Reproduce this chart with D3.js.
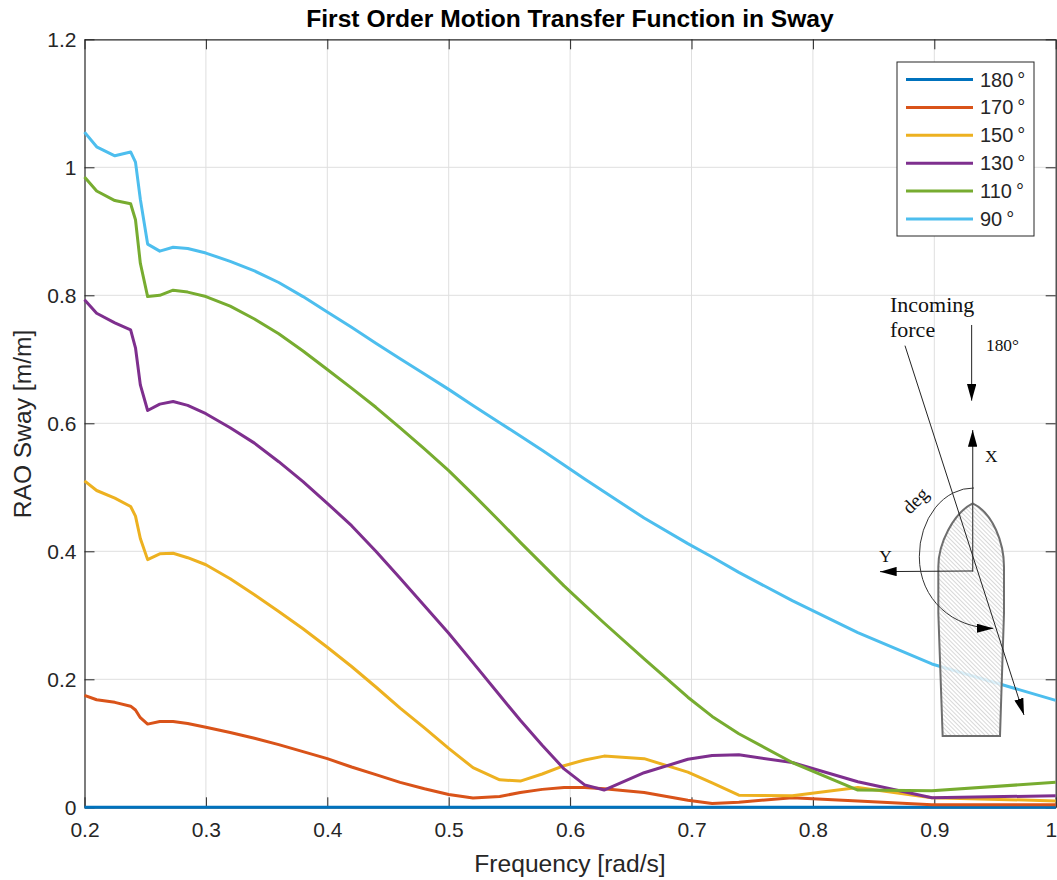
<!DOCTYPE html>
<html>
<head>
<meta charset="utf-8">
<script src="https://cdn.jsdelivr.net/npm/d3@7"></script>
<style>
  html, body { margin: 0; padding: 0; background: #fff; }
  svg { display: block; }
  text { font-family: "Liberation Sans", Arial, sans-serif; fill: #262626; }
  .inset text { font-family: "Liberation Serif", serif; fill: #111; }
</style>
</head>
<body>
<svg id="chart" width="1057" height="880"></svg>
<script>
const freq = [0.2,0.21,0.225,0.238,0.242,0.246,0.252,0.262,0.273,0.285,0.3,0.32,0.34,0.36,0.38,0.4,0.42,0.44,0.46,0.48,0.5,0.52,0.542,0.559,0.577,0.595,0.612,0.628,0.661,0.697,0.717,0.739,0.783,0.837,0.898,1];

const rao180 = [0,0,0,0,0,0,0,0,0,0,0,0,0,0,0,0,0,0,0,0,0,0,0,0,0,0,0,0,0,0,0,0,0,0,0,0];
const rao170 = [0.175,0.168,0.164,0.158,0.152,0.14,0.13,0.134,0.134,0.131,0.125,0.117,0.108,0.098,0.087,0.076,0.063,0.051,0.039,0.029,0.02,0.0145,0.017,0.023,0.028,0.031,0.031,0.029,0.023,0.011,0.006,0.008,0.015,0.01,0.004,0.004];
const rao150 = [0.51,0.495,0.483,0.47,0.455,0.42,0.387,0.396,0.397,0.39,0.379,0.357,0.332,0.306,0.279,0.25,0.22,0.188,0.155,0.124,0.092,0.062,0.043,0.041,0.052,0.065,0.074,0.08,0.076,0.055,0.038,0.019,0.018,0.031,0.015,0.01];
const rao130 = [0.793,0.772,0.757,0.746,0.718,0.66,0.62,0.63,0.634,0.628,0.615,0.593,0.569,0.54,0.509,0.475,0.44,0.4,0.358,0.315,0.272,0.226,0.175,0.136,0.097,0.06,0.035,0.027,0.054,0.075,0.081,0.082,0.07,0.04,0.015,0.018];
const rao110 = [0.985,0.963,0.948,0.943,0.918,0.85,0.798,0.8,0.808,0.805,0.798,0.783,0.763,0.74,0.713,0.684,0.655,0.625,0.593,0.56,0.526,0.489,0.447,0.414,0.38,0.346,0.316,0.288,0.232,0.172,0.142,0.115,0.07,0.027,0.026,0.039];
const rao90 = [1.055,1.032,1.018,1.024,1.008,0.95,0.88,0.869,0.875,0.873,0.866,0.853,0.838,0.82,0.798,0.774,0.75,0.725,0.701,0.677,0.653,0.628,0.601,0.58,0.558,0.535,0.513,0.493,0.452,0.412,0.391,0.367,0.323,0.273,0.224,0.167];

const seriesNames = ['180°','170°','150°','130°','110°','90°'];
const seriesValues = [rao180, rao170, rao150, rao130, rao110, rao90];
const seriesColors = ['#0072BD','#D95319','#EDB120','#7E2F8E','#77AC30','#4DBEEE'];

const xTicks = [0.2,0.3,0.4,0.5,0.6,0.7,0.8,0.9,1];
const yTicks = [0,0.2,0.4,0.6,0.8,1,1.2];

const svg = d3.select('#chart');
const plotLeft = 84.5, plotRight = 1055.7, plotTop = 39.3, plotBottom = 807.3;

const x = d3.scaleLinear().domain([0.2, 1]).range([plotLeft, plotRight]);
const y = d3.scaleLinear().domain([0, 1.2]).range([plotBottom, plotTop]);

// grid
const grid = svg.append('g').attr('stroke', '#dfdfdf').attr('stroke-width', 1);
xTicks.slice(1, -1).forEach(t => {
  grid.append('line').attr('x1', x(t)).attr('x2', x(t)).attr('y1', plotTop).attr('y2', plotBottom);
});
yTicks.slice(1, -1).forEach(t => {
  grid.append('line').attr('x1', plotLeft).attr('x2', plotRight).attr('y1', y(t)).attr('y2', y(t));
});

// axes, ticks point inwards like matlab
function styleAxis(g) {
  g.select('.domain').attr('stroke', '#262626').attr('stroke-width', 1.2);
  g.selectAll('.tick line').attr('stroke', '#262626').attr('stroke-width', 1);
  g.selectAll('text').style('font-size', '21px').style('fill', '#262626');
}
const tickFmt = d => String(d);
const noLabel = () => '';

const bottomAxis = svg.append('g').attr('transform', `translate(0,${plotBottom})`)
  .call(d3.axisBottom(x).tickValues(xTicks).tickFormat(tickFmt).tickSize(-10).tickSizeOuter(0).tickPadding(15))
  .call(styleAxis);
// the last label sits on the window edge, keep it inside
bottomAxis.selectAll('.tick').filter(d => d === 1).select('text').attr('text-anchor', 'end').attr('x', 1);

svg.append('g').attr('transform', `translate(0,${plotTop})`)
  .call(d3.axisTop(x).tickValues(xTicks).tickFormat(noLabel).tickSize(-10).tickSizeOuter(0))
  .call(styleAxis);
svg.append('g').attr('transform', `translate(${plotLeft},0)`)
  .call(d3.axisLeft(y).tickValues(yTicks).tickFormat(tickFmt).tickSize(-10).tickSizeOuter(0).tickPadding(8))
  .call(styleAxis);
svg.append('g').attr('transform', `translate(${plotRight},0)`)
  .call(d3.axisRight(y).tickValues(yTicks).tickFormat(noLabel).tickSize(-10).tickSizeOuter(0))
  .call(styleAxis);

// series
const line = d3.line().x((d, i) => x(freq[i])).y(d => y(d));
svg.append('g').selectAll('path')
  .data(seriesValues)
  .join('path')
  .attr('d', d => line(d))
  .attr('fill', 'none')
  .attr('stroke', (d, i) => seriesColors[i])
  .attr('stroke-width', 3)
  .attr('stroke-linejoin', 'round');

// labels
svg.append('text').attr('x', 570).attr('y', 27).attr('text-anchor', 'middle')
  .style('font-size', '24.6px').style('font-weight', 'bold').style('fill', '#000')
  .text('First Order Motion Transfer Function in Sway');
svg.append('text').attr('x', 570).attr('y', 872).attr('text-anchor', 'middle')
  .style('font-size', '24.6px').text('Frequency [rad/s]');
svg.append('text').attr('transform', 'translate(31,424) rotate(-90)').attr('text-anchor', 'middle')
  .style('font-size', '24.6px').text('RAO Sway [m/m]');

// legend
const legend = svg.append('g');
legend.append('rect').attr('x', 897).attr('y', 62).attr('width', 137).attr('height', 174)
  .attr('fill', '#fff').attr('stroke', '#262626').attr('stroke-width', 1);
const legendY = d3.scalePoint().domain(seriesNames).range([79.5, 219]);
seriesNames.forEach((name, i) => {
  legend.append('line').attr('x1', 906).attr('x2', 973)
    .attr('y1', legendY(name)).attr('y2', legendY(name))
    .attr('stroke', seriesColors[i]).attr('stroke-width', 3);
  legend.append('text').attr('x', 980).attr('y', legendY(name) + 7)
    .style('font-size', '20px').text(name.replace('°', '\u2009°'));
});

// ship inset, coordinates are in 3x units from the sketch
const inset = svg.append('g').attr('class', 'inset').attr('transform', 'translate(860,280) scale(0.3333)');
const defs = svg.append('defs');
const hatch = defs.append('pattern').attr('id', 'hatch').attr('patternUnits', 'userSpaceOnUse')
  .attr('width', 9).attr('height', 9).attr('patternTransform', 'rotate(-45)');
hatch.append('rect').attr('width', 9).attr('height', 9).attr('fill', '#fff').attr('fill-opacity', 0.8);
hatch.append('line').attr('x1', 0).attr('x2', 0).attr('y1', 0).attr('y2', 9)
  .attr('stroke', '#c4c4c4').attr('stroke-width', 4);

const marker = defs.append('marker').attr('id', 'head').attr('viewBox', '0 0 10 10')
  .attr('refX', 10).attr('refY', 5).attr('markerUnits', 'userSpaceOnUse')
  .attr('markerWidth', 50).attr('markerHeight', 28).attr('orient', 'auto').attr('preserveAspectRatio', 'none');
marker.append('path').attr('d', 'M0,0 L10,5 L0,10 Z').attr('fill', '#000');

inset.append('path')
  .attr('d', 'M338,670 C400,700 432,790 432,860 L432,1000 L420,1368 L248,1368 L235,1000 L235,860 C235,790 280,700 338,670 Z')
  .attr('fill', 'url(#hatch)').attr('stroke', '#6e6e6e').attr('stroke-width', 6);

function arrow(x1, y1, x2, y2, color, w) {
  inset.append('line').attr('x1', x1).attr('y1', y1).attr('x2', x2).attr('y2', y2)
    .attr('stroke', color).attr('stroke-width', w).attr('marker-end', 'url(#head)');
}
arrow(338, 875, 338, 450, '#555', 4);
arrow(338, 873, 60, 875, '#222', 3);
arrow(335, 135, 335, 362, '#222', 3);
arrow(135, 197, 492, 1305, '#222', 3);

inset.append('path').attr('d', 'M342,624 A162,205 0 0 0 178,830 C178,960 280,1045 400,1045')
  .attr('fill', 'none').attr('stroke', '#333').attr('stroke-width', 3).attr('marker-end', 'url(#head)');

inset.append('text').attr('x', 90).attr('y', 95).style('font-size', '66px').text('Incoming');
inset.append('text').attr('x', 90).attr('y', 170).style('font-size', '66px').text('force');
inset.append('text').attr('x', 378).attr('y', 212).style('font-size', '52px').text('180°');
inset.append('text').attr('x', 375).attr('y', 545).style('font-size', '52px').text('X');
inset.append('text').attr('x', 58).attr('y', 845).style('font-size', '52px').text('Y');
inset.append('text').attr('transform', 'translate(150,705) rotate(-45)').style('font-size', '58px').text('deg');
</script>
</body>
</html>
